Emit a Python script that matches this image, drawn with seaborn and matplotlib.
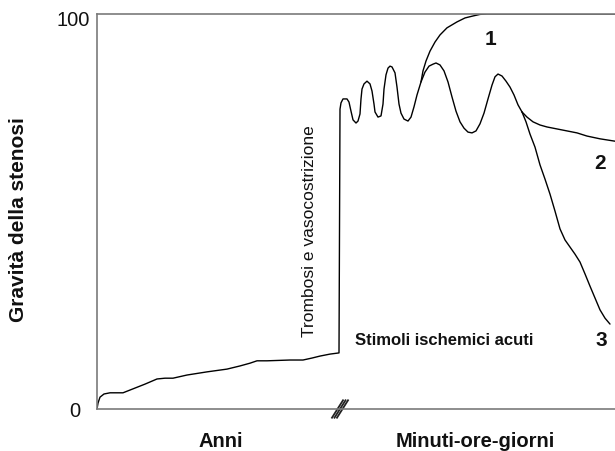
import numpy as np
import pandas as pd
import matplotlib
matplotlib.use("Agg")
import matplotlib.pyplot as plt
import matplotlib.transforms as mtransforms
import seaborn as sns

# ---- data (x: arbitrary time units, y: stenosis severity %) ----
main_x = [0, 1, 3, 7, 13, 26, 36, 48, 60, 68, 76, 90, 110, 130, 143, 153, 160, 170, 193, 206,
          215, 223, 233, 242, 243, 244, 246, 250, 252, 254, 256, 259, 261, 263, 264, 265, 267,
          270, 273, 275, 277, 278, 281, 284, 286, 287, 289, 291, 293, 295, 298, 300, 302, 304,
          307, 311, 314, 317, 320, 324, 328, 332, 336, 339, 343, 347, 351, 355, 359, 363, 367,
          371, 375, 379, 383, 387, 391, 395, 398, 401, 405, 409, 413, 417, 421, 425]
main_y = [0, 1.5, 3.0, 3.8, 4.1, 4.1, 5.1, 6.3, 7.6, 7.8, 7.8, 8.6, 9.4, 10.1, 10.9, 11.6, 12.2,
          12.2, 12.4, 12.4, 12.9, 13.4, 13.9, 14.2, 75.9, 77.5, 78.5, 78.5, 77.7, 75.4, 73.2,
          72.4, 72.9, 74.7, 78.5, 81.0, 82.3, 83.0, 82.3, 80.5, 77.2, 75.2, 73.9, 74.2, 77.2,
          81.0, 84.6, 86.3, 86.8, 86.6, 85.1, 81.5, 77.2, 74.9, 73.4, 72.9, 73.9, 76.5, 79.5,
          82.8, 85.3, 86.8, 87.3, 87.6, 87.1, 85.6, 82.8, 79.0, 75.4, 72.7, 71.1, 70.1, 69.9,
          70.4, 72.2, 74.9, 78.5, 82.0, 84.1, 84.8, 84.3, 83.0, 81.5, 79.5, 77.0, 75.2]

c1_x = [324, 326, 329, 333, 338, 343, 350, 360, 368, 376, 383, 390, 518]
c1_y = [82.8, 85.6, 88.1, 90.6, 92.9, 94.7, 96.5, 98.0, 99.0, 99.5, 99.9, 100, 100]

c2_x = [425, 430, 436, 443, 450, 460, 470, 480, 490, 503, 518]
c2_y = [75.2, 73.9, 72.7, 71.9, 71.4, 70.9, 70.4, 69.9, 69.1, 68.4, 67.8]

c3_x = [425, 429, 433, 438, 443, 448, 453, 458, 463, 468, 473, 478, 483, 488, 493, 498, 503, 508, 513]
c3_y = [75.2, 72.7, 69.6, 66.3, 61.8, 58.2, 54.4, 50.1, 45.6, 42.8, 41.0, 39.2, 37.2, 34.2,
        31.1, 28.1, 25.1, 23.0, 21.5]

curve_labels = ["1", "2", "3"]
y_ticks = [0, 100]
y_tick_labels = ["0", "100"]
break_x = 243

# ---- style ----
sns.set_theme(style="white")
plt.rcParams["font.family"] = ["Liberation Sans", "DejaVu Sans"]

fig = plt.figure(figsize=(6.15, 4.52), dpi=100)
ax = fig.add_axes([97 / 615, 1 - 410 / 452, 518 / 615, 395 / 452])

kw = dict(ax=ax, color="black", linewidth=1.0, sort=False, estimator=None, legend=False)
sns.lineplot(data=pd.DataFrame({"x": main_x, "y": main_y}), x="x", y="y", **kw)
sns.lineplot(data=pd.DataFrame({"x": c1_x, "y": c1_y}), x="x", y="y", **kw)
sns.lineplot(data=pd.DataFrame({"x": c2_x, "y": c2_y}), x="x", y="y", **kw)
sns.lineplot(data=pd.DataFrame({"x": c3_x, "y": c3_y}), x="x", y="y", **kw)

ax.set_xlim(0, 518)
ax.set_ylim(0, 100)
ax.set_xlabel("")
ax.set_ylabel("")
ax.set_xticks([])
ax.set_yticks(y_ticks)
ax.set_yticklabels(y_tick_labels, fontsize=14.5, color="#111111")
ax.tick_params(axis="y", length=0)
ticks = ax.yaxis.get_major_ticks()
ticks[0].set_pad(12)
ticks[1].set_pad(5)
lbl100 = ax.get_yticklabels()[1]
lbl100.set_transform(lbl100.get_transform() +
                     mtransforms.ScaledTranslation(0, -4 / 100, fig.dpi_scale_trans))

for side in ["left", "bottom", "top"]:
    ax.spines[side].set_color("#7a7a7a")
    ax.spines[side].set_linewidth(1.2)
ax.spines["right"].set_visible(False)

# break mark on x axis
for dx in (-2.5, 0, 2.5):
    ax.plot([break_x - 6 + dx, break_x + 6 + dx], [-2.4, 2.4], color="#222222",
            linewidth=1.3, clip_on=False, solid_capstyle="butt")

# annotations
bold = dict(fontweight="bold", color="#111111")
ax.text(393, 93.9, curve_labels[0], fontsize=15, ha="center", va="center", **bold)
ax.text(503, 62.5, curve_labels[1], fontsize=15, ha="center", va="center", **bold)
ax.text(504, 17.5, curve_labels[2], fontsize=15, ha="center", va="center", **bold)
ax.text(347, 17.5, "Stimoli ischemici acuti", fontsize=12, ha="center", va="center", **bold)
ax.text(213, 45.3, "Trombosi e vasocostrizione", fontsize=12.5, rotation=90,
        ha="center", va="center", color="#111111")

fig.text(220.5 / 615, 1 - 442 / 452, "Anni", fontsize=14.5, ha="center", va="center", **bold)
fig.text(475 / 615, 1 - 442 / 452, "Minuti-ore-giorni", fontsize=14.5, ha="center", va="center", **bold)
fig.text(19 / 615, 1 - 220 / 452, "Gravità della stenosi", fontsize=15, rotation=90,
         ha="center", va="center", **bold)

fig.savefig("out.png", dpi=100)
